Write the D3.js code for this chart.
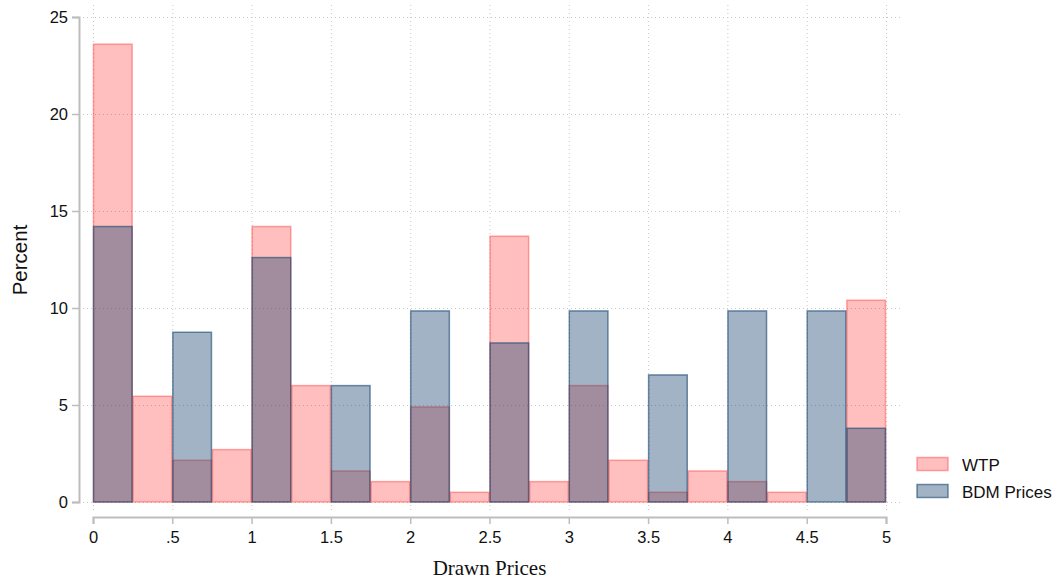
<!DOCTYPE html>
<html><head><meta charset="utf-8">
<script src="https://cdn.jsdelivr.net/npm/d3@7"></script>
<style>body{margin:0;background:#fff}svg{display:block}</style>
</head><body>
<svg id="c" width="1060" height="586"></svg>
<script>
const binWidth = 0.25;
const wtpBins = [0,0.25,0.5,0.75,1,1.25,1.5,1.75,2,2.25,2.5,2.75,3,3.25,3.5,3.75,4,4.25,4.5,4.75];
const wtpValues = [23.6,5.45,2.15,2.7,14.2,6.0,1.6,1.05,4.9,0.5,13.7,1.05,6.0,2.15,0.5,1.6,1.05,0.5,0,10.4];
const bdmBins = [0,0.5,1,1.5,2,2.5,3,3.5,4,4.5,4.75];
const bdmValues = [14.2,8.75,12.6,6.0,9.85,8.2,9.85,6.55,9.85,9.85,3.8];
const xTicks = [0,0.5,1,1.5,2,2.5,3,3.5,4,4.5,5];
const xTickLabels = ["0",".5","1","1.5","2","2.5","3","3.5","4","4.5","5"];
const yTicks = [0,5,10,15,20,25];
const seriesNames = ["WTP","BDM Prices"];

const svg = d3.select("#c");
const x = d3.scaleLinear().domain([0,5]).range([93,886]);
const y = d3.scaleLinear().domain([0,25]).range([502,17]);

const grid = svg.append("g").attr("stroke","#c8c8c8").attr("stroke-width",1).attr("stroke-dasharray","1,3");
yTicks.forEach(t => grid.append("line").attr("x1",83).attr("x2",900).attr("y1",y(t)+0.5).attr("y2",y(t)+0.5));
xTicks.forEach(t => grid.append("line").attr("x1",x(t)+0.5).attr("x2",x(t)+0.5).attr("y1",5).attr("y2",513));

const pinkFill = "rgba(255,0,0,0.25)", pinkStroke = "rgba(255,60,60,0.45)";
const blueFill = "rgba(26,71,111,0.41)", blueStroke = "rgba(26,71,111,0.6)";

svg.append("g").selectAll("rect").data(wtpBins.map((b,i)=>({b,v:wtpValues[i]})).filter(d=>d.v>0))
  .join("rect")
  .attr("x",d=>x(d.b)+0.5).attr("width",d=>x(d.b+binWidth)-x(d.b)-1)
  .attr("y",d=>y(d.v)).attr("height",d=>y(0)-y(d.v))
  .attr("fill",pinkFill).attr("stroke",pinkStroke).attr("stroke-width",1.5);

svg.append("g").selectAll("rect").data(bdmBins.map((b,i)=>({b,v:bdmValues[i]})))
  .join("rect")
  .attr("x",d=>x(d.b)+0.5).attr("width",d=>x(d.b+binWidth)-x(d.b)-1)
  .attr("y",d=>y(d.v)).attr("height",d=>y(0)-y(d.v))
  .attr("fill",blueFill).attr("stroke",blueStroke).attr("stroke-width",1.5);

// y axis
const yAxis = svg.append("g").attr("transform","translate(79,0)")
  .call(d3.axisLeft(y).tickValues(yTicks).tickSize(7).tickPadding(4).tickFormat(d3.format("d")));
yAxis.select(".domain").attr("stroke","#bdbdbd").attr("stroke-width",2);
yAxis.selectAll(".tick line").attr("stroke","#bdbdbd").attr("stroke-width",1.5);
yAxis.selectAll("text").attr("font-family","Liberation Sans, Arial, sans-serif").attr("font-size",16.5).attr("fill","#111");

// x axis
const xAxis = svg.append("g").attr("transform","translate(0,517)")
  .call(d3.axisBottom(x).tickValues(xTicks).tickSize(7).tickPadding(7).tickFormat((d,i)=>xTickLabels[i]));
xAxis.select(".domain").attr("stroke","#bdbdbd").attr("stroke-width",2);
xAxis.selectAll(".tick line").attr("stroke","#bdbdbd").attr("stroke-width",1.5);
xAxis.selectAll("text").attr("font-family","Liberation Sans, Arial, sans-serif").attr("font-size",16.5).attr("fill","#111");

svg.append("text").attr("transform","translate(27,260) rotate(-90)").attr("text-anchor","middle")
  .attr("font-family","Liberation Sans, Arial, sans-serif").attr("font-size",20.5).attr("fill","#111").text("Percent");
svg.append("text").attr("x",489.5).attr("y",575).attr("text-anchor","middle")
  .attr("font-family","Liberation Serif, Times New Roman, serif").attr("font-size",21).attr("fill","#111").text("Drawn Prices");

// legend
const leg = svg.append("g");
[[pinkFill,pinkStroke],[blueFill,blueStroke]].forEach((c,i)=>{
  const yy = 457.5 + i*27;
  leg.append("rect").attr("x",917).attr("y",yy).attr("width",31).attr("height",13)
    .attr("fill",c[0]).attr("stroke",c[1]).attr("stroke-width",1.5);
  leg.append("text").attr("x",962).attr("y",yy+13).attr("font-family","Liberation Sans, Arial, sans-serif")
    .attr("font-size",17).attr("fill","#111").text(seriesNames[i]);
});
</script>
</body></html>
